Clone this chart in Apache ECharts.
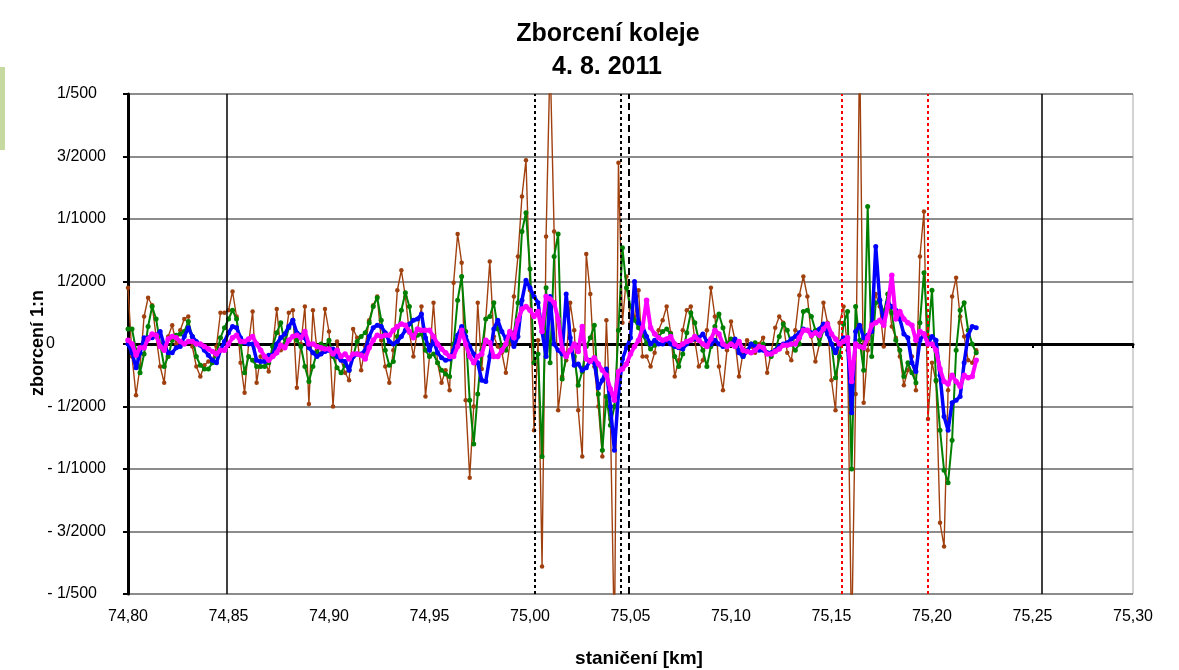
<!DOCTYPE html>
<html>
<head>
<meta charset="utf-8">
<script src="https://cdn.jsdelivr.net/npm/echarts@6/dist/echarts.min.js"></script>
<style>
html,body{margin:0;padding:0;background:#fff;}
#chart{width:1179px;height:670px;}
</style>
</head>
<body>
<div id="chart"></div>
<script>
// Station grid of the measurement (km): first station and spacing
const stationStartKm = 74.800;
const stationStepKm = 0.002;

// Twist values in per mille (1 = 1/1000)
const brownValues = [
 0.45,-0.1,-0.41,-0.18,0.22,0.37,0.31,0.06,-0.18,-0.31,0.06,0.15,0.0,0.11,0.2,0.22,-0.02,-0.18,-0.26,-0.17,-0.14,-0.13,-0.02,0.25,0.25,0.27,0.42,0.22,-0.15,-0.39,0.0,0.26,-0.31,-0.1,-0.13,-0.22,
 -0.02,0.28,-0.05,0.0,0.25,0.27,-0.35,0.0,0.3,-0.48,0.27,-0.05,-0.08,0.28,0.1,-0.5,0.02,-0.13,-0.23,-0.29,0.12,0.05,-0.21,-0.02,0.19,0.31,0.38,0.03,-0.18,-0.31,-0.05,0.43,0.59,0.38,0.09,-0.1,
 0.11,0.3,-0.42,-0.1,0.33,-0.15,-0.31,-0.21,-0.37,0.49,0.88,0.65,-0.45,-1.07,-0.5,0.33,-0.2,0.2,0.66,0.06,-0.02,-0.07,-0.23,0.0,0.38,0.7,1.18,1.47,0.43,-0.69,0.03,-1.78,0.86,2.3,0.9,-0.53,
 -0.26,-0.13,0.33,0.11,-0.53,-0.9,0.72,0.4,-0.18,-0.5,-0.9,0.19,-0.6,-2.4,1.45,0.17,0.54,0.17,0.22,0.43,-0.1,-0.1,-0.18,-0.07,0.11,0.19,0.3,0.09,-0.26,-0.13,0.11,0.27,0.3,0.03,-0.18,-0.13,
 0.11,0.45,0.22,-0.18,-0.37,-0.05,0.18,0.03,-0.26,-0.07,0.03,-0.02,-0.07,0.0,0.05,-0.23,-0.07,0.13,0.22,0.17,-0.07,-0.13,0.11,0.39,0.54,0.38,0.06,-0.14,0.0,0.33,0.17,-0.29,-0.53,0.17,0.3,-0.05,
 -2.4,-0.4,2.4,-0.47,-0.05,0.17,0.4,0.3,-0.02,0.4,0.14,0.05,-0.1,-0.33,-0.21,-0.1,-0.37,0.7,1.06,-0.6,-0.15,-0.3,-1.43,-1.62,-0.37,0.38,0.53,0.22,0.06,-0.13,-0.15,-0.05
];
const greenValues = [
 0.12,0.12,-0.05,-0.23,-0.08,0.14,0.3,0.2,0.0,-0.18,-0.1,0.03,0.07,0.08,0.1,0.18,0.06,-0.1,-0.17,-0.2,-0.2,-0.15,-0.08,0.05,0.13,0.2,0.27,0.2,0.0,-0.23,-0.1,-0.13,-0.18,-0.18,-0.18,-0.15,
 -0.02,0.09,0.17,0.0,0.13,0.19,0.03,-0.02,-0.18,-0.3,-0.18,-0.07,0.0,-0.02,0.03,-0.1,-0.19,-0.23,-0.17,-0.21,-0.1,0.02,0.06,0.09,0.17,0.3,0.37,0.19,-0.05,-0.17,-0.14,0.06,0.27,0.41,0.3,0.06,
 0.07,0.08,-0.05,-0.1,-0.08,-0.15,-0.21,-0.24,-0.26,0.0,0.35,0.54,0.1,-0.45,-0.8,-0.4,-0.05,0.2,0.22,0.33,0.12,-0.02,-0.05,0.03,0.09,0.33,0.9,1.05,0.6,-0.15,-0.08,-0.9,0.45,-0.15,0.7,0.88,
 -0.28,-0.1,-0.05,-0.1,-0.33,-0.22,-0.02,0.05,0.15,-0.4,-0.85,-0.42,-0.65,-0.5,0.11,0.77,0.45,0.3,0.19,0.13,0.07,0.01,-0.04,-0.01,0.06,0.1,0.12,0.08,-0.1,-0.18,-0.08,0.09,0.25,0.17,0.03,-0.05,
 -0.18,-0.02,0.14,0.24,0.13,0.0,0.04,0.03,-0.05,-0.1,-0.05,0.0,0.01,-0.02,0.0,-0.07,-0.1,-0.05,0.06,0.16,0.11,0.0,-0.05,0.0,0.26,0.27,0.22,0.11,0.0,0.11,0.16,0.0,-0.27,-0.1,0.16,0.26,
 -1.0,0.3,0.03,-0.21,1.1,-0.1,0.33,0.35,0.25,0.4,0.25,0.03,-0.05,-0.26,-0.15,-0.23,-0.31,0.17,0.57,0.06,0.43,-0.29,-0.69,-1.01,-1.11,-0.77,-0.05,0.27,0.33,0.11,0.0,-0.07
];
const blueValues = [
 0.0,-0.07,-0.19,-0.07,0.05,0.05,0.05,0.07,0.1,-0.01,-0.07,-0.07,-0.03,-0.02,0.06,0.13,0.06,0.02,-0.01,-0.05,-0.09,-0.13,-0.15,-0.05,0.02,0.09,0.14,0.13,0.05,0.01,0.0,0.0,-0.13,-0.14,-0.14,-0.09,
 -0.09,0.0,0.05,0.08,0.14,0.19,0.09,0.07,0.05,-0.03,-0.07,-0.1,-0.08,-0.06,-0.05,-0.04,-0.1,-0.13,-0.14,-0.21,-0.1,-0.08,-0.08,-0.05,0.06,0.13,0.15,0.14,0.09,0.02,0.0,0.02,0.06,0.11,0.16,0.19,
 0.2,0.24,0.05,-0.05,0.03,-0.07,-0.11,-0.13,-0.12,-0.05,0.07,0.14,0.06,-0.02,-0.08,-0.15,-0.29,-0.3,-0.1,0.12,0.19,0.1,0.04,0.09,-0.02,0.06,0.35,0.51,0.45,0.38,0.33,0.1,-0.1,0.38,0.0,-0.05,
 -0.08,0.4,0.05,-0.17,-0.16,-0.21,-0.19,-0.13,-0.15,-0.35,-0.29,-0.2,-0.5,-0.85,-0.4,-0.12,-0.03,0.05,0.5,0.17,0.14,0.06,0.0,0.03,0.0,0.0,0.03,0.0,-0.02,-0.03,-0.04,0.0,0.03,0.04,0.05,0.08,
 0.02,0.0,0.03,0.0,-0.02,-0.02,0.0,0.04,-0.07,-0.1,-0.06,0.0,-0.02,-0.05,-0.05,-0.07,-0.07,-0.05,-0.02,0.0,0.01,0.04,0.06,0.09,0.12,0.11,0.09,0.09,0.12,0.16,0.08,0.0,-0.07,0.01,0.05,0.0,
 -0.55,0.1,0.15,0.05,0.07,0.1,0.78,0.35,0.17,0.33,0.3,0.27,0.2,0.08,0.05,-0.15,-0.22,0.03,0.08,0.0,0.06,0.03,-0.25,-0.58,-0.69,-0.47,-0.45,-0.42,-0.15,0.07,0.14,0.13
];
const magentaValues = [
 0.03,0.0,-0.09,-0.03,-0.03,0.04,0.08,0.07,-0.02,-0.05,0.04,0.06,0.05,0.02,0.0,0.02,0.02,0.0,0.0,-0.02,-0.04,-0.06,-0.08,-0.05,-0.05,0.0,0.05,0.07,0.02,0.02,0.04,0.06,0.0,-0.05,-0.1,-0.13,
 -0.1,-0.07,-0.01,-0.03,0.03,0.06,0.07,0.05,0.1,0.0,0.0,-0.02,-0.03,-0.04,-0.04,-0.08,-0.05,-0.1,-0.08,-0.12,-0.08,-0.08,-0.09,-0.12,-0.03,0.03,0.07,0.06,0.07,0.07,0.11,0.14,0.16,0.15,0.1,0.05,
 0.12,0.11,0.11,0.11,0.06,0.0,-0.04,-0.07,-0.1,-0.1,-0.02,0.11,0.0,-0.1,-0.15,-0.1,-0.08,0.03,0.01,-0.1,-0.1,-0.05,0.0,0.1,0.05,0.19,0.28,0.3,0.27,0.22,0.26,0.1,0.38,0.36,0.33,0.2,
 -0.04,-0.1,-0.05,0.0,-0.06,0.14,-0.12,-0.14,-0.11,-0.16,-0.21,-0.25,-0.36,-0.45,-0.22,-0.2,-0.16,-0.08,-0.02,0.03,0.13,0.35,0.13,0.08,0.05,0.03,0.04,0.06,0.0,-0.02,0.0,0.02,0.03,0.06,0.03,0.0,
 -0.02,0.04,0.11,0.08,0.0,-0.02,0.0,-0.02,0.02,-0.05,-0.06,-0.07,-0.05,-0.02,-0.03,-0.08,-0.08,-0.06,-0.04,-0.01,-0.01,0.0,0.0,0.05,0.11,0.11,0.07,0.09,0.07,0.12,0.16,0.08,0.04,0.0,0.02,0.05,
 -0.3,0.0,-0.02,-0.03,0.05,0.15,0.17,0.19,0.15,0.3,0.55,0.2,0.26,0.2,0.17,0.15,0.03,0.1,0.08,0.0,0.0,-0.05,-0.2,-0.3,-0.32,-0.25,-0.3,-0.34,-0.25,-0.27,-0.26,-0.13
];

// Axis ticks and their labels
const xTickLabels = ['74,80','74,85','74,90','74,95','75,00','75,05','75,10','75,15','75,20','75,25','75,30'];
const yTickValues = [-2,-1.5,-1,-0.5,0,0.5,1,1.5,2];
const yTickLabels = ['- 1/500','- 3/2000','- 1/1000','- 1/2000','0','1/2000','1/1000','3/2000','1/500'];

// Vertical marker lines (km)
const solidLinesKm = [74.849, 75.2545];
const dottedBlackLinesKm = [75.0025, 75.0453];
const dashedBlackLinesKm = [75.0493];
const dottedRedLinesKm = [75.1552, 75.198];

const FONT = '"Liberation Sans", Arial, Helvetica, sans-serif';

function toPairs(vals) {
  return vals.map((v, i) => [stationStartKm + i * stationStepKm, v]);
}

// Excel-like fraction label "# ?/????": pad short denominators / empty fraction part
function yLabel(v) {
  const idx = yTickValues.findIndex(t => Math.abs(t - v) < 1e-9);
  if (idx < 0) return '';
  const lab = yTickLabels[idx];
  if (lab.indexOf('/') < 0) return '{v|' + lab + '}{z| }';
  const den = lab.split('/')[1];
  return den.length < 4 ? '{v|' + lab + '}{d| }' : '{v|' + lab + '}';
}

const markLines = []
  .concat(solidLinesKm.map(k => ({xAxis: k, lineStyle: {color: '#000', width: 1.5, type: 'solid'}})))
  .concat(dottedBlackLinesKm.map(k => ({xAxis: k, lineStyle: {color: '#000', width: 2, type: [3, 3]}})))
  .concat(dashedBlackLinesKm.map(k => ({xAxis: k, lineStyle: {color: '#000', width: 2, type: [7, 4]}})))
  .concat(dottedRedLinesKm.map(k => ({xAxis: k, lineStyle: {color: '#ff0000', width: 2, type: [3, 3]}})));

const chart = echarts.init(document.getElementById('chart'), null, {renderer: 'canvas'});

const option = {
  animation: false,
  backgroundColor: '#ffffff',
  grid: {left: 128, right: 46, top: 94, bottom: 76, show: true, borderColor: '#a6a6a6', borderWidth: 1, containLabel: false},
  xAxis: [
    {
      type: 'value', min: 74.8, max: 75.3, interval: 0.05, position: 'bottom',
      axisLine: {show: false, onZero: false},
      axisTick: {show: false},
      splitLine: {show: false},
      axisLabel: {
        margin: 15, color: '#000', fontSize: 16, fontFamily: FONT,
        formatter: v => xTickLabels[Math.round((v - 74.8) / 0.05)]
      }
    },
    {
      type: 'value', min: 74.8, max: 75.3, interval: 0.05, position: 'bottom',
      axisLine: {show: true, onZero: true, lineStyle: {color: '#000', width: 3}},
      axisTick: {show: true, length: 4, lineStyle: {color: '#000', width: 2}},
      axisLabel: {show: false},
      splitLine: {show: false}
    }
  ],
  yAxis: {
    type: 'value', min: -2, max: 2, interval: 0.5,
    axisLine: {show: true, onZero: false, lineStyle: {color: '#000', width: 3}},
    axisTick: {show: true, length: 5, lineStyle: {color: '#000', width: 2}},
    splitLine: {show: true, lineStyle: {color: '#8c8c8c', width: 2}},
    axisLabel: {
      margin: 22, color: '#000', fontSize: 16, fontFamily: FONT, align: 'right',
      formatter: yLabel,
      rich: {
        v: {color: '#000', fontSize: 16, fontFamily: FONT},
        d: {width: 9, fontSize: 16, fontFamily: FONT},
        z: {width: 51, fontSize: 16, fontFamily: FONT}
      }
    }
  },
  graphic: [
    {type: 'rect', shape: {x: 0, y: 67, width: 5, height: 83}, style: {fill: '#c5d9a0'}, silent: true},
    {type: 'text', x: 608, y: 34, style: {text: 'Zborcení koleje', font: 'bold 25px ' + FONT, fill: '#000', textAlign: 'center', textVerticalAlign: 'middle', align: 'center', verticalAlign: 'middle'}, silent: true},
    {type: 'text', x: 607, y: 67, style: {text: '4. 8. 2011', font: 'bold 25px ' + FONT, fill: '#000', textAlign: 'center', textVerticalAlign: 'middle', align: 'center', verticalAlign: 'middle'}, silent: true},
    {type: 'text', x: 38, y: 343, rotation: Math.PI / 2, style: {text: 'zborcení 1:n', font: 'bold 18px ' + FONT, fill: '#000', textAlign: 'center', textVerticalAlign: 'middle', align: 'center', verticalAlign: 'middle'}, silent: true},
    {type: 'text', x: 639, y: 659, style: {text: 'staničení [km]', font: 'bold 19px ' + FONT, fill: '#000', textAlign: 'center', textVerticalAlign: 'middle', align: 'center', verticalAlign: 'middle'}, silent: true}
  ],
  series: [
    {
      type: 'line', name: 'brown', xAxisIndex: 0, data: toPairs(brownValues),
      lineStyle: {width: 1.4, color: '#a0400f'},
      symbol: 'circle', symbolSize: 4.5, itemStyle: {color: '#a0400f'},
      clip: true, z: 2,
      markLine: {silent: true, precision: 4, symbol: ['none', 'none'], label: {show: false}, animation: false, data: markLines}
    },
    {
      type: 'line', name: 'green', xAxisIndex: 0, data: toPairs(greenValues),
      lineStyle: {width: 2, color: '#008000'},
      symbol: 'circle', symbolSize: 5, itemStyle: {color: '#008000'},
      clip: true, z: 3
    },
    {
      type: 'line', name: 'blue', xAxisIndex: 0, data: toPairs(blueValues),
      lineStyle: {width: 3.5, color: '#0000ff'},
      symbol: 'circle', symbolSize: 5, itemStyle: {color: '#0000ff'},
      clip: true, z: 4
    },
    {
      type: 'line', name: 'magenta', xAxisIndex: 0, data: toPairs(magentaValues),
      lineStyle: {width: 4, color: '#ff00ff'},
      symbol: 'circle', symbolSize: 5.5, itemStyle: {color: '#ff00ff'},
      clip: true, z: 5
    }
  ]
};

chart.setOption(option);
</script>
</body>
</html>
